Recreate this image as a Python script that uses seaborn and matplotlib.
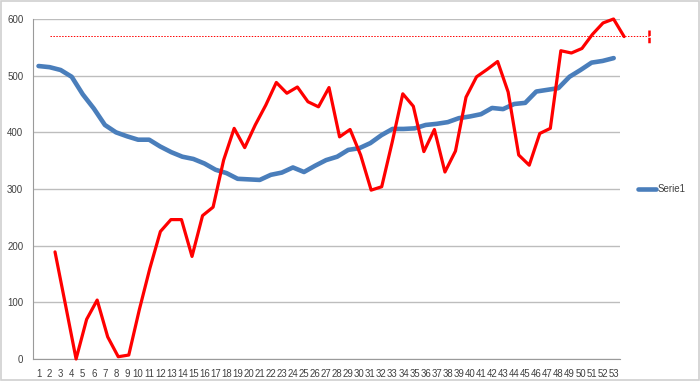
"""
Serie1 vs. red series, Excel-style line chart
"""

import numpy as np
import pandas as pd
import matplotlib
matplotlib.use('Agg')
import matplotlib.pyplot as plt
from matplotlib.patches import Rectangle
import seaborn as sns

# data
categories = list(range(1, 54))
serie1 = [517, 515, 510, 498, 467, 442, 413, 400, 393, 387,
          387, 375, 365, 357, 353, 345, 334, 328, 318, 317,
          316, 325, 329, 338, 330, 341, 351, 357, 369, 372,
          381, 395, 406, 406, 407, 413, 415, 418, 425, 428,
          432, 443, 441, 450, 452, 472, 475, 478, 498, 510,
          523, 526, 531]
red_values = [189, 95, 0, 70, 104, 39, 4, 7, 87, 160,
              225, 246, 246, 181, 253, 268, 351, 407, 373, 413,
              448, 488, 469, 480, 454, 445, 479, 392, 405, 360,
              298, 304, 383, 468, 446, 366, 405, 330, 367, 462,
              498, 511, 525, 471, 360, 342, 398, 407, 544, 540,
              548, 573, 593, 600, 569]
target_level = 570
y_ticks = [0, 100, 200, 300, 400, 500, 600]

sns.set_style('white')
plt.rcParams['font.family'] = ['Liberation Sans', 'DejaVu Sans']

fig = plt.figure(figsize=(7, 3.81), dpi=100)
fig.patches.append(Rectangle((0.001, 0.002), 0.997, 0.995, transform=fig.transFigure,
                             fill=False, edgecolor='#d0d0d0', lw=1.2))
ax = fig.add_axes([33 / 700, 1 - 359 / 381, 587 / 700, 340 / 381])

# red series sits on its own (slightly tighter) spacing, running past the plot area
red_x = np.linspace(2.49, 53.94, len(red_values))
red_df = pd.DataFrame({'x': red_x, 'y': red_values})
blue_df = pd.DataFrame({'x': categories, 'y': serie1})

sns.lineplot(data=blue_df, x='x', y='y', ax=ax, color='#4a7ebb', lw=3.3,
             label='Serie1', solid_capstyle='round', zorder=3)
sns.lineplot(data=red_df, x='x', y='y', ax=ax, color='#ff0000', lw=2.3,
             legend=False, clip_on=False, zorder=4)

# dotted target line with its end mark
ax.plot([2.04, 56.2], [target_level, target_level], color='#ff0000', lw=0.7,
        ls=(0, (1.5, 1.5)), clip_on=False, zorder=2)
ax.plot([56.2, 56.2], [target_level + 11, target_level - 12], color='#ff0000', lw=1.8,
        ls=(0, (2.2, 0.7)), solid_capstyle='butt', dash_capstyle='butt',
        clip_on=False, zorder=2)

ax.set_xlim(0.5, 53.57)
ax.set_ylim(0, 600)
ax.set_yticks(y_ticks)
ax.set_xticks(categories)
ax.set_xticklabels([str(c) for c in categories])
ax.set_xticks(np.arange(0.5, 54, 1), minor=True)
ax.tick_params(axis='x', which='major', length=0, labelsize=6.9, colors='#404040', pad=7)
ax.tick_params(axis='x', which='minor', length=3, width=0.7, color='#9a9a9a', direction='out')
ax.tick_params(axis='y', length=4, width=0.7, color='#9a9a9a', labelsize=7,
               labelcolor='#404040', direction='out', pad=3)
ax.grid(axis='y', color='#bdbdbd', lw=1.0)
ax.grid(axis='x', visible=False)
for side in ['top', 'right']:
    ax.spines[side].set_visible(False)
for side in ['left', 'bottom']:
    ax.spines[side].set_color('#9a9a9a')
    ax.spines[side].set_linewidth(0.8)
ax.set_xlabel('')
ax.set_ylabel('')

ax.legend(loc='center left', bbox_to_anchor=(1.015, 0.5), frameon=False,
          fontsize=7, handlelength=1.9, handletextpad=0.2, labelcolor='#404040')

plt.savefig('out.png', dpi=100)
plt.close()
